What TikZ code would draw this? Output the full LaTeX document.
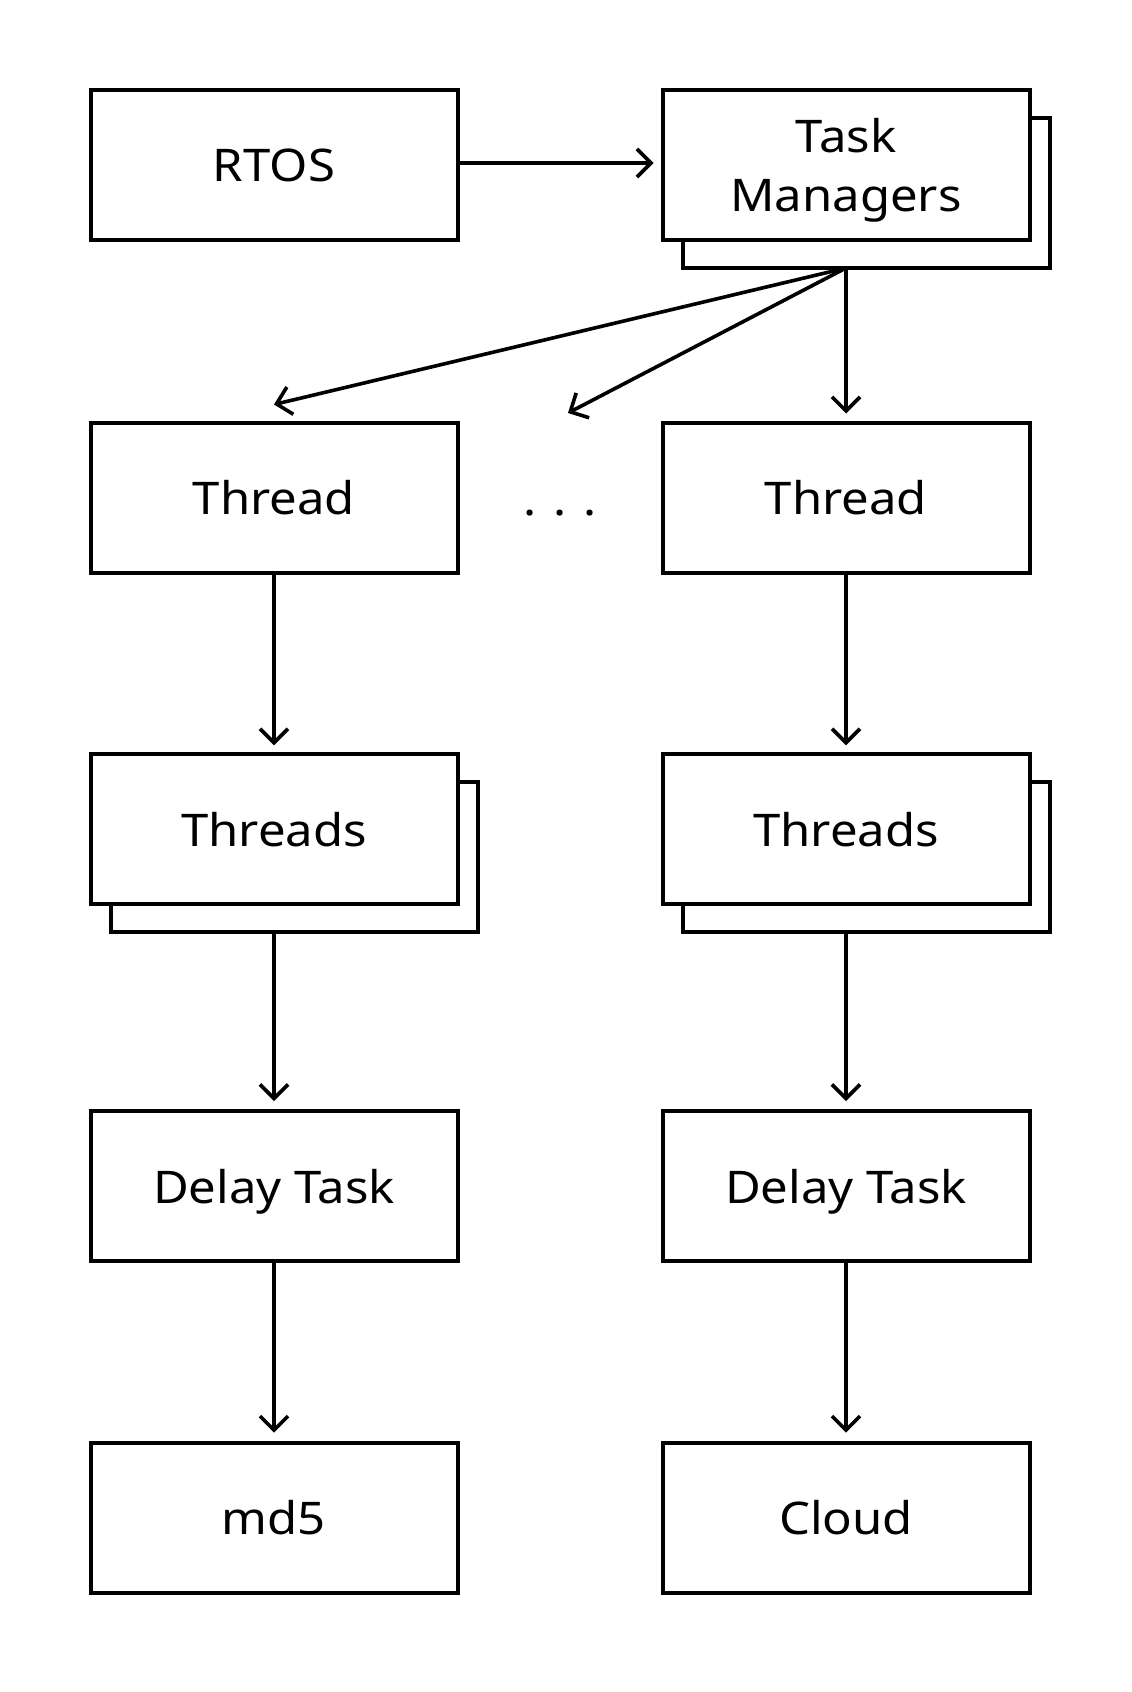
\documentclass[tikz,border=0pt]{standalone}
\usepackage{fontspec}
\setmainfont{Noto Sans}[FakeStretch=1.09]
\usetikzlibrary{arrows.meta}
\begin{document}
\begin{tikzpicture}[x=1pt,y=-1pt,
  txt/.style={font=\fontsize{45}{59}\selectfont},
  box/.style={txt,draw=black,line width=4pt,fill=white,minimum width=367pt,minimum height=150pt,
    inner sep=0pt,outer sep=0pt,align=center,text depth=0pt},
  arr/.style={draw=black,line width=3.6pt,-{Straight Barb[length=14pt,width=28pt]}},
]
\useasboundingbox[fill=white] (0,0) rectangle (1132,1692);
% row 1
\node[box] (rtos) at (274,165) {RTOS};
\node[box] (tmS) at (866,193) {};
\node[box] (tm) at (846,165) {Task\\Managers};
% row 2
\node[box] (th1) at (274,497.5) {Thread};
\node[box] (th2) at (846,497.5) {Thread};
\node[txt,anchor=base] (dots) at (560,515.5) {. . .};
% row 3
\node[box] (ts1S) at (294,857.3) {};
\node[box] (ts1) at (274,829.3) {Threads};
\node[box] (ts2S) at (866,857.3) {};
\node[box] (ts2) at (846,829.3) {Threads};
% row 4
\node[box] (dt1) at (274,1186) {Delay Task};
\node[box] (dt2) at (846,1186) {Delay Task};
% row 5
\node[box] (md5) at (274,1517.7) {md5};
\node[box] (cloud) at (846,1517.7) {Cloud};
% connectors
\draw[arr] ([yshift=2pt]rtos.east) -- ([xshift=-9pt,yshift=2pt]tm.west);
\coordinate (fan) at (tm |- tmS.south);
\coordinate (dotsend) at (568,413);
\draw[arr] (fan) -- ([yshift=18pt]th1.north);
\draw[arr] (fan) -- (dotsend);
\draw[arr] (fan) -- ([yshift=9pt]th2.north);
\draw[arr] (th1.south) -- ([yshift=9pt]ts1.north);
\draw[arr] (th2.south) -- ([yshift=9pt]ts2.north);
\draw[arr] (ts1 |- ts1S.south) -- ([yshift=10pt]dt1.north);
\draw[arr] (ts2 |- ts2S.south) -- ([yshift=10pt]dt2.north);
\draw[arr] (dt1.south) -- ([yshift=10pt]md5.north);
\draw[arr] (dt2.south) -- ([yshift=10pt]cloud.north);
\end{tikzpicture}
\end{document}
